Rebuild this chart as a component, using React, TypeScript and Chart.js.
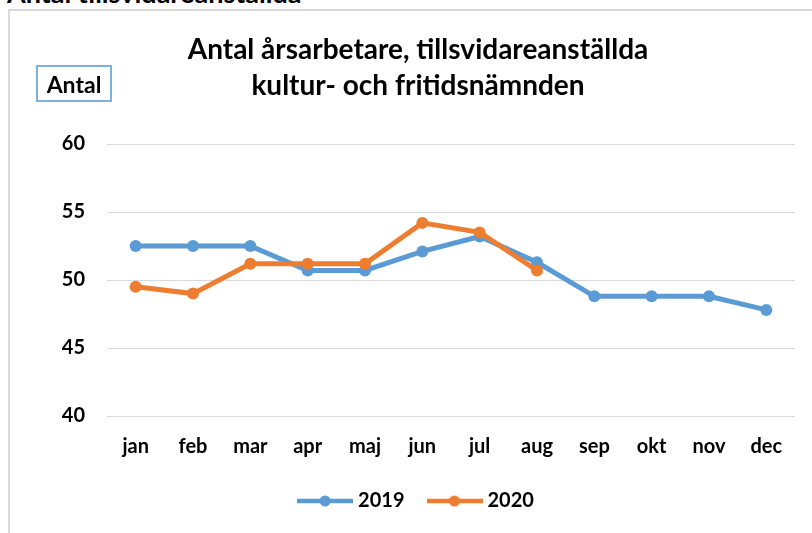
import React, { useEffect, useRef } from "react";
import { Chart, registerables } from "chart.js";

Chart.register(...registerables);

const months = ["jan", "feb", "mar", "apr", "maj", "jun", "jul", "aug", "sep", "okt", "nov", "dec"];
const values2019 = [52.5, 52.5, 52.5, 50.7, 50.7, 52.1, 53.2, 51.3, 48.8, 48.8, 48.8, 47.8];
const values2020 = [49.5, 49.0, 51.2, 51.2, 51.2, 54.2, 53.5, 50.7];
const seriesNames = ["2019", "2020"];
const yMin = 40;
const yMax = 60;
const yStep = 5;
const titleLines = ["Antal årsarbetare, tillsvidareanställda", "kultur- och fritidsnämnden"];
const axisLabel = "Antal";
const pageHeading = "Antal tillsvidareanställda";

const BLUE = "#5B9BD5";
const ORANGE = "#ED7D31";
const FONT = "Lato, 'Open Sans', sans-serif";

function makeMarker(color: string) {
  const c = document.createElement("canvas");
  c.width = 56;
  c.height = 14;
  const ctx = c.getContext("2d")!;
  ctx.strokeStyle = color;
  ctx.lineWidth = 4.5;
  ctx.beginPath();
  ctx.moveTo(0, 7);
  ctx.lineTo(56, 7);
  ctx.stroke();
  ctx.fillStyle = color;
  ctx.beginPath();
  ctx.arc(28, 7, 5.5, 0, Math.PI * 2);
  ctx.fill();
  return c;
}

export default function App() {
  const canvasRef = useRef<HTMLCanvasElement | null>(null);

  useEffect(() => {
    if (!canvasRef.current) return;
    const markers = [makeMarker(BLUE), makeMarker(ORANGE)];
    const chart = new Chart(canvasRef.current, {
      type: "line",
      data: {
        labels: months,
        datasets: [
          {
            label: seriesNames[0],
            data: values2019,
            borderColor: BLUE,
            backgroundColor: BLUE,
            pointBackgroundColor: BLUE,
            pointBorderWidth: 0,
            borderWidth: 5,
            pointRadius: 6,
            tension: 0,
            order: 1,
          },
          {
            label: seriesNames[1],
            data: values2020,
            borderColor: ORANGE,
            backgroundColor: ORANGE,
            pointBackgroundColor: ORANGE,
            pointBorderWidth: 0,
            borderWidth: 5,
            pointRadius: 6,
            tension: 0,
            order: 0,
          },
        ],
      },
      options: {
        animation: false,
        responsive: false,
        maintainAspectRatio: false,
        layout: { padding: { left: 0, right: 6, top: 0, bottom: 12 } },
        font: { family: FONT },
        scales: {
          x: {
            offset: true,
            grid: { display: false, drawTicks: false },
            border: { display: false },
            ticks: {
              color: "#000",
              font: { family: FONT, size: 20, weight: "bold" },
              padding: 19,
              maxRotation: 0,
              autoSkip: false,
            },
            afterFit: (s: any) => {
              s.height = 48;
            },
          },
          y: {
            min: yMin,
            max: yMax,
            grid: { color: "#d9d9d9", lineWidth: 1, drawTicks: false },
            border: { display: false },
            ticks: {
              stepSize: yStep,
              color: "#000",
              font: { family: FONT, size: 20, weight: "bold" },
              padding: 22,
            },
            afterFit: (s: any) => {
              s.width = 97;
            },
          },
          y2: {
            type: "linear",
            position: "right",
            display: true,
            grid: { display: false, drawTicks: false },
            border: { display: false },
            ticks: { display: false },
            afterFit: (s: any) => {
              s.width = 31;
            },
          },
        },
        plugins: {
          title: {
            display: true,
            text: titleLines,
            color: "#000",
            font: { family: FONT, size: 28, weight: "bold", lineHeight: 36 / 28 },
            padding: { top: 21, bottom: 40 },
          },
          legend: {
            display: true,
            position: "bottom",
            labels: {
              usePointStyle: true,
              pointStyleWidth: 46,
              padding: 27,
              color: "#000",
              font: { family: FONT, size: 20, weight: "bold" },
              sort: (a: any, b: any) => a.datasetIndex - b.datasetIndex,
              generateLabels: (ch: any) => {
                const items = (Chart.defaults.plugins.legend.labels as any).generateLabels(ch);
                items.forEach((it: any) => {
                  it.pointStyle = markers[it.datasetIndex];
                });
                return items;
              },
            },
          },
          tooltip: { enabled: false },
        },
      } as any,
    });
    return () => chart.destroy();
  }, []);

  return (
    <div
      style={{
        position: "fixed",
        left: 0,
        top: 0,
        width: 812,
        height: 533,
        overflow: "hidden",
        background: "#fff",
        fontFamily: FONT,
      }}
    >
      <div
        style={{
          position: "absolute",
          left: 7,
          top: -23,
          fontSize: 27,
          fontWeight: "bold",
          lineHeight: "32px",
          color: "#000",
          whiteSpace: "nowrap",
        }}
      >
        {pageHeading}
      </div>
      <div
        style={{
          position: "absolute",
          left: 8,
          top: 9,
          width: 840,
          height: 560,
          borderLeft: "2px solid #d9d9d9",
          borderTop: "2px solid #d9d9d9",
        }}
      />
      <canvas
        ref={canvasRef}
        width={822}
        height={522}
        style={{ position: "absolute", left: 10, top: 11, width: 822, height: 522 }}
      />
      <div
        style={{
          position: "absolute",
          left: 36,
          top: 65,
          width: 76,
          height: 37,
          boxSizing: "border-box",
          border: "2px solid #7fb0dd",
          display: "flex",
          alignItems: "center",
          justifyContent: "center",
          fontSize: 23,
          fontWeight: "bold",
          color: "#000",
        }}
      >
        {axisLabel}
      </div>
    </div>
  );
}
